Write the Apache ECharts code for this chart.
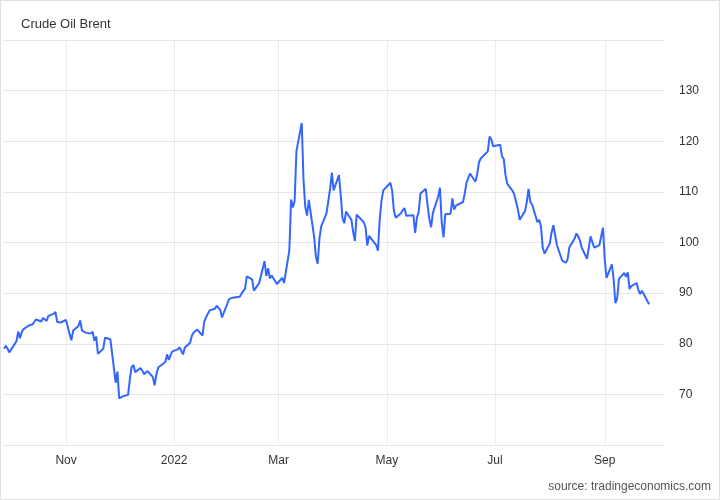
<!DOCTYPE html>
<html>
<head>
<meta charset="utf-8">
<script src="https://cdn.jsdelivr.net/npm/echarts@6/dist/echarts.min.js"></script>
<style>
  html, body { margin: 0; padding: 0; background: #fff; }
  #chart { width: 718px; height: 498px; border: 1px solid #e0e0e0; }
</style>
</head>
<body>
<div id="chart"></div>
<script>
// Brent daily closes
var dates = [
  '2021-09-27','2021-09-28','2021-09-29','2021-09-30','2021-10-01','2021-10-04','2021-10-05','2021-10-06','2021-10-07','2021-10-08',
  '2021-10-11','2021-10-12','2021-10-13','2021-10-14','2021-10-15','2021-10-18','2021-10-19','2021-10-20','2021-10-21','2021-10-22',
  '2021-10-25','2021-10-26','2021-10-27','2021-10-28','2021-10-29','2021-11-01','2021-11-02','2021-11-03','2021-11-04','2021-11-05',
  '2021-11-08','2021-11-09','2021-11-10','2021-11-11','2021-11-12','2021-11-15','2021-11-16','2021-11-17','2021-11-18','2021-11-19',
  '2021-11-22','2021-11-23','2021-11-24','2021-11-26','2021-11-29','2021-11-30','2021-12-01','2021-12-02','2021-12-03','2021-12-06',
  '2021-12-07','2021-12-08','2021-12-09','2021-12-10','2021-12-13','2021-12-14','2021-12-15','2021-12-16','2021-12-17','2021-12-20',
  '2021-12-21','2021-12-22','2021-12-23','2021-12-27','2021-12-28','2021-12-29','2021-12-30','2021-12-31','2022-01-03','2022-01-04',
  '2022-01-05','2022-01-06','2022-01-07','2022-01-10','2022-01-11','2022-01-12','2022-01-13','2022-01-14','2022-01-17','2022-01-18',
  '2022-01-19','2022-01-20','2022-01-21','2022-01-24','2022-01-25','2022-01-26','2022-01-27','2022-01-28','2022-01-31','2022-02-01',
  '2022-02-02','2022-02-03','2022-02-04','2022-02-07','2022-02-08','2022-02-09','2022-02-10','2022-02-11','2022-02-14','2022-02-15',
  '2022-02-16','2022-02-17','2022-02-18','2022-02-21','2022-02-22','2022-02-23','2022-02-24','2022-02-25','2022-02-28','2022-03-01',
  '2022-03-02','2022-03-03','2022-03-04','2022-03-07','2022-03-08','2022-03-09','2022-03-10','2022-03-11','2022-03-14','2022-03-15',
  '2022-03-16','2022-03-17','2022-03-18','2022-03-21','2022-03-22','2022-03-23','2022-03-24','2022-03-25','2022-03-28','2022-03-29',
  '2022-03-30','2022-03-31','2022-04-01','2022-04-04','2022-04-05','2022-04-06','2022-04-07','2022-04-08','2022-04-11','2022-04-12',
  '2022-04-13','2022-04-14','2022-04-18','2022-04-19','2022-04-20','2022-04-21','2022-04-22','2022-04-25','2022-04-26','2022-04-27',
  '2022-04-28','2022-04-29','2022-05-02','2022-05-03','2022-05-04','2022-05-05','2022-05-06','2022-05-09','2022-05-10','2022-05-11',
  '2022-05-12','2022-05-13','2022-05-16','2022-05-17','2022-05-18','2022-05-19','2022-05-20','2022-05-23','2022-05-24','2022-05-25',
  '2022-05-26','2022-05-27','2022-05-30','2022-05-31','2022-06-01','2022-06-02','2022-06-03','2022-06-06','2022-06-07','2022-06-08',
  '2022-06-09','2022-06-10','2022-06-13','2022-06-14','2022-06-15','2022-06-16','2022-06-17','2022-06-20','2022-06-21','2022-06-22',
  '2022-06-23','2022-06-24','2022-06-27','2022-06-28','2022-06-29','2022-06-30','2022-07-01','2022-07-04','2022-07-05','2022-07-06',
  '2022-07-07','2022-07-08','2022-07-11','2022-07-12','2022-07-13','2022-07-14','2022-07-15','2022-07-18','2022-07-19','2022-07-20',
  '2022-07-21','2022-07-22','2022-07-25','2022-07-26','2022-07-27','2022-07-28','2022-07-29','2022-08-01','2022-08-02','2022-08-03',
  '2022-08-04','2022-08-05','2022-08-08','2022-08-09','2022-08-10','2022-08-11','2022-08-12','2022-08-15','2022-08-16','2022-08-17',
  '2022-08-18','2022-08-19','2022-08-22','2022-08-23','2022-08-24','2022-08-26','2022-08-29','2022-08-30','2022-08-31','2022-09-01',
  '2022-09-02','2022-09-05','2022-09-06','2022-09-07','2022-09-08','2022-09-09','2022-09-12','2022-09-13','2022-09-14','2022-09-15',
  '2022-09-16','2022-09-19','2022-09-20','2022-09-21','2022-09-22','2022-09-23','2022-09-26'
];
var prices = [
  79.0, 79.6, 79.0, 78.3, 78.6, 80.5, 82.4, 81.1, 82.3, 82.9,
  83.6, 83.3, 83.8, 84.3, 84.8, 84.4, 85.1, 85.3, 84.5, 85.5,
  85.9, 86.3, 84.3, 84.1, 84.2, 84.7, 84.6, 81.9, 80.7, 82.6,
  83.5, 84.6, 82.6, 82.8, 82.2, 82.0, 82.4, 80.6, 81.4, 78.0,
  79.0, 81.2, 81.0, 80.9, 72.3, 74.5, 69.2, 68.9, 69.6, 69.9,
  73.0, 75.4, 75.8, 74.4, 75.2, 74.7, 74.0, 73.8, 74.6, 73.4,
  71.8, 74.0, 75.3, 76.4, 77.9, 76.8, 77.8, 78.5, 78.9, 79.3,
  79.6, 77.9, 79.2, 80.2, 81.6, 82.2, 82.0, 82.8, 81.6, 84.4,
  85.2, 85.2, 86.6, 86.9, 87.5, 87.4, 86.7, 85.2, 87.9, 88.8,
  88.5, 89.1, 89.2, 89.3, 89.9, 90.0, 90.9, 93.3, 92.7, 90.5,
  91.0, 91.2, 92.0, 96.3, 93.4, 94.9, 92.9, 93.5, 91.8, 92.2,
  92.6, 93.0, 92.0, 98.4, 108.5, 106.9, 108.2, 118.0, 123.6, 112.4,
  107.0, 105.3, 108.4, 101.1, 97.2, 95.8, 100.8, 103.2, 105.8, 106.0,
  110.6, 113.8, 110.3, 113.3, 109.4, 104.8, 103.8, 106.1, 104.5, 102.1,
  100.3, 105.5, 104.0, 103.0, 99.4, 101.3, 101.0, 99.5, 98.4, 104.5,
  108.2, 110.3, 111.4, 111.8, 110.3, 106.3, 104.9, 105.8, 106.4, 106.8,
  105.3, 105.1, 105.4, 101.9, 104.9, 106.0, 109.7, 110.6, 107.4, 104.7,
  103.0, 105.8, 109.1, 110.8, 104.0, 101.0, 105.6, 105.7, 108.7, 106.5,
  107.3, 107.5, 108.0, 109.7, 111.8, 112.8, 113.6, 112.0, 113.5, 115.8,
  116.6, 116.5, 118.0, 120.9, 120.4, 119.0, 118.9, 119.3, 117.0, 116.5,
  113.3, 111.6, 110.2, 109.4, 108.0, 106.5, 104.5, 106.2, 108.0, 110.6,
  108.0, 107.5, 104.0, 104.5, 103.2, 99.0, 97.8, 99.8, 102.0, 103.4,
  103.2, 99.5, 96.4, 96.4, 96.0, 96.6, 99.0, 100.8, 101.8, 101.2,
  100.4, 99.0, 96.8, 97.0, 101.2, 99.0, 99.5, 99.8, 102.9, 96.6,
  93.0, 95.7, 92.8, 88.0, 88.9, 92.8, 94.0, 93.2, 94.1, 90.8,
  91.4, 92.0, 90.6, 89.8, 90.5, 90.2, 87.8
];
var monthTicks = ['2021-11-01', '2022-01-01', '2022-03-01', '2022-05-01', '2022-07-01', '2022-09-01'];
var monthLabels = ['Nov', '2022', 'Mar', 'May', 'Jul', 'Sep'];
var yTicks = [70, 80, 90, 100, 110, 120, 130];

var seriesData = dates.map(function (d, i) { return [d, prices[i]]; });
var monthLines = monthTicks.map(function (d, i) {
  return { xAxis: d, label: { formatter: monthLabels[i] } };
});

var chart = echarts.init(document.getElementById('chart'));
var option = {
  backgroundColor: '#fff',
  animation: false,
  title: {
    text: 'Crude Oil Brent',
    left: 15, top: 12,
    textStyle: { fontFamily: 'Liberation Sans', fontSize: 13, fontWeight: 'normal', color: '#333' }
  },
  graphic: [{
    type: 'text', right: 8, bottom: 6,
    style: { text: 'source: tradingeconomics.com', font: '12px Liberation Sans', fill: '#555' }
  }],
  grid: { left: 2, right: 54, top: 39, bottom: 54 },
  xAxis: {
    type: 'time',
    min: '2021-09-26 10:00',
    max: '2022-10-05',
    axisLine: { show: false },
    axisTick: { show: false },
    splitLine: { show: false },
    axisLabel: { show: false }
  },
  yAxis: {
    type: 'value', position: 'right',
    min: 60, max: 140, interval: 10,
    axisLine: { show: false }, axisTick: { show: false },
    splitLine: { lineStyle: { color: '#e6e6e6' } },
    axisLabel: {
      margin: 14, color: '#333', fontFamily: 'Liberation Sans', fontSize: 12,
      formatter: function (v) { return yTicks.indexOf(v) >= 0 ? String(v) : ''; }
    }
  },
  series: [{
    type: 'line',
    data: seriesData,
    showSymbol: false,
    lineStyle: { color: '#3366ff', width: 2 },
    itemStyle: { color: '#3366ff' },
    z: 3,
    markLine: {
      silent: true,
      symbol: 'none',
      z: 1,
      lineStyle: { color: '#ececec', type: 'solid', width: 1 },
      label: {
        position: 'start', distance: 10,
        color: '#333', fontFamily: 'Liberation Sans', fontSize: 12
      },
      data: monthLines
    }
  }]
};
chart.setOption(option);
</script>
</body>
</html>
